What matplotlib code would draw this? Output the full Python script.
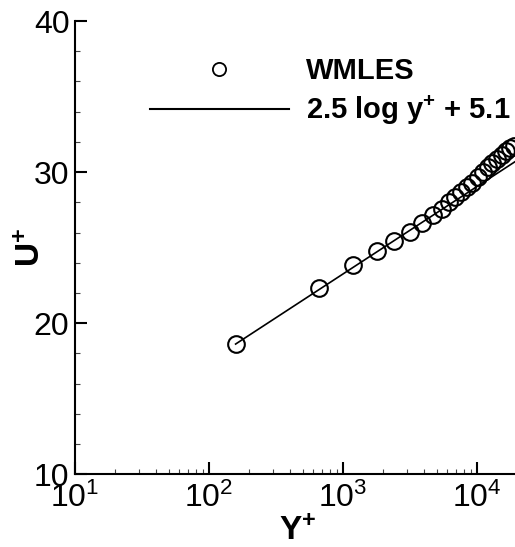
import matplotlib
matplotlib.use("Agg")
import matplotlib.pyplot as plt
from matplotlib.lines import Line2D
from matplotlib.ticker import LogLocator, MultipleLocator, NullFormatter

plt.rcParams['font.family'] = ['Liberation Sans', 'DejaVu Sans']
plt.rcParams['mathtext.fontset'] = 'custom'
plt.rcParams['mathtext.rm'] = 'Liberation Sans'
plt.rcParams['mathtext.bf'] = 'Liberation Sans:bold'
plt.rcParams['mathtext.default'] = 'regular'

# WMLES velocity profile in wall units
yplus = [158, 662, 1194, 1782, 2415, 3162, 3908, 4721, 5510, 6150, 6850,
         7600, 8380, 9200, 10120, 11030, 12030, 13010, 14100, 15280, 16440,
         17620, 18880]
uplus = [18.62, 22.31, 23.85, 24.80, 25.44, 26.06, 26.65, 27.16, 27.56,
         28.05, 28.35, 28.70, 29.00, 29.30, 29.65, 30.00, 30.33, 30.62,
         30.90, 31.15, 31.40, 31.60, 31.75]

# log law reference line (end points)
yplus_log = [158, 19230]
uplus_log = [18.62, 30.69]

fig = plt.figure(figsize=(5.15, 5.47), dpi=100)
ax = fig.add_axes([0.1456, 0.1329, 0.8544, 0.8287])

ax.plot(yplus_log, uplus_log, color='k', lw=1.2)
ax.plot(yplus, uplus, ls='none', marker='o', ms=12, mfc='none',
        mec='k', mew=1.5)

ax.set_xscale('log')
ax.set_xlim(10, 10 ** (1 + 440 / 134))
ax.set_ylim(10, 40)

ax.xaxis.set_major_locator(LogLocator(base=10, numticks=10))
ax.xaxis.set_minor_locator(LogLocator(base=10, subs=range(2, 10), numticks=10))
ax.xaxis.set_minor_formatter(NullFormatter())
ax.yaxis.set_major_locator(MultipleLocator(10))
ax.yaxis.set_minor_locator(MultipleLocator(2))

for s in ['top', 'right']:
    ax.spines[s].set_visible(False)
for s in ['left', 'bottom']:
    ax.spines[s].set_linewidth(1.5)

ax.tick_params(which='major', direction='in', length=8.5, width=1.5,
               labelsize=23, color='k')
ax.tick_params(which='minor', direction='in', length=3.8, width=0.8,
               color='#444444')
ax.tick_params(axis='y', which='major', pad=4)
ax.tick_params(axis='x', which='major', pad=6)

ax.set_xlabel(r'$\mathbf{Y^{+}}$', fontsize=24)
ax.set_ylabel(r'$\mathbf{U^{+}}$', fontsize=24)
ax.xaxis.set_label_coords(0.505, -0.092)
ax.yaxis.set_label_coords(-0.064, 0.5)

handles = [
    Line2D([], [], ls='none', marker='o', ms=9.5, mfc='none', mec='k', mew=1.3),
    Line2D([], [], color='k', lw=1.5),
]
labels = ['WMLES', r'2.5 log y$^\mathbf{+}$ + 5.1']
ax.legend(handles, labels, loc='upper left', bbox_to_anchor=(150 / 515, 1 - 57 / 547),
          bbox_transform=fig.transFigure, frameon=False, borderpad=0,
          borderaxespad=0, handlelength=4.75, handletextpad=0.6,
          labelspacing=0.3, prop={'weight': 'bold', 'size': 21})

fig.savefig('out.png', dpi=100)
